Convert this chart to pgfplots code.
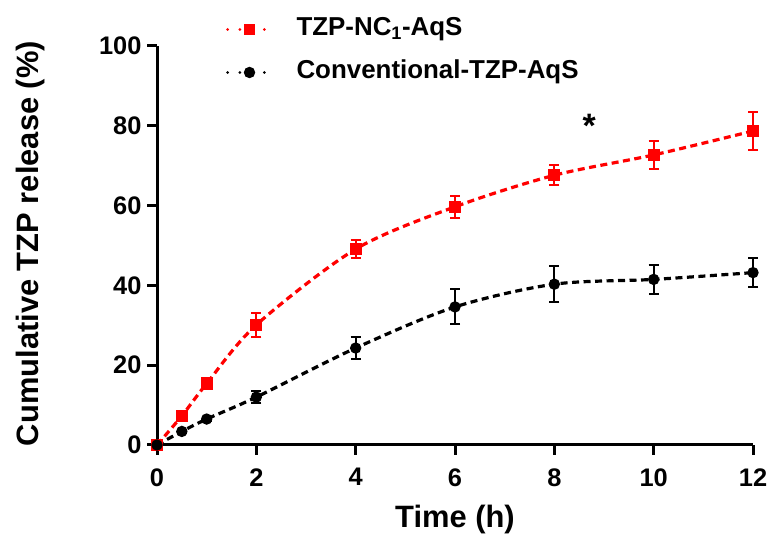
\documentclass[border=0pt]{standalone}
\usepackage{fontspec}
\setmainfont{Liberation Sans}
\usepackage{pgfplots}
\pgfplotsset{compat=1.18}
\begin{document}
\begin{tikzpicture}[x=1bp,y=1bp]
\useasboundingbox (0,0) rectangle (779,548);
\begin{axis}[
  at={(157bp,103bp)}, anchor=south west,
  scale only axis, width=596bp, height=399bp,
  xmin=0, xmax=12, ymin=0, ymax=100,
  axis x line=bottom, axis y line=left,
  axis line style={line width=3bp, -},
  xtick={0,2,...,12}, ytick={0,20,...,100},
  tick align=outside, major tick length=10bp,
  tick style={line width=3bp, black},
  tick label style={font=\fontsize{25.5}{25.5}\selectfont\bfseries},
  xticklabel style={yshift=-10bp},
  yticklabel style={xshift=-2bp},
  /pgf/number format/assume math mode=true,
  xlabel={Time (h)}, ylabel={Cumulative TZP release (\%)},
  label style={font=\fontsize{31}{31}\selectfont\bfseries},
  x label style={at={(axis description cs:0.5,-0.188)}, anchor=center},
  y label style={at={(axis description cs:-0.212,0.505)}, anchor=center, rotate=0},
  clip=false,
  legend style={at={(0.1158,1.0727)}, anchor=north west, draw=none, fill=none,
    inner sep=0bp, outer sep=0bp,
    font=\fontsize{26}{26}\selectfont\bfseries, row sep=18bp,
    nodes={inner sep=0bp, text height=19bp, text depth=6bp}},
  legend cell align=left,
  legend image code/.code={
    \path[draw=none, fill=none] (0bp,0bp) -- (69bp,0bp);
    \draw[#1, solid, line cap=round, dash pattern=on 0bp off 12.3bp, line width=3bp] (0bp,0bp) -- (37bp,0bp);
    \draw[#1, solid, mark size=4bp] plot coordinates {(22bp,0bp)};
  },
]
\addplot[red, line width=3.2bp, dash pattern=on 7bp off 4.5bp, smooth,
  mark=square*, mark size=4.5bp, mark options={solid},
  error bars/.cd, y dir=both, y explicit,
  error bar style={line width=2bp, solid},
  error mark options={rotate=90, mark size=5bp, line width=2bp, red}]
coordinates {
 (0,0) +- (0,0)
 (0.5,7.3) +- (0,0.4)
 (1,15.4) +- (0,1.0)
 (2,30.1) +- (0,3.1)
 (4,49.1) +- (0,2.2)
 (6,59.7) +- (0,2.7)
 (8,67.6) +- (0,2.5)
 (10,72.7) +- (0,3.5)
 (12,78.7) +- (0,4.7)
};
\addlegendentry{TZP-NC\textsubscript{1}-AqS}
\addplot[black, line width=3.2bp, dash pattern=on 7bp off 4.5bp, smooth,
  mark=*, mark size=4bp, mark options={solid},
  error bars/.cd, y dir=both, y explicit,
  error bar style={line width=2bp, solid},
  error mark options={rotate=90, mark size=5bp, line width=2bp, black}]
coordinates {
 (0,0) +- (0,0)
 (0.5,3.4) +- (0,0.3)
 (1,6.5) +- (0,0.5)
 (2,12.0) +- (0,1.5)
 (4,24.3) +- (0,2.7)
 (6,34.6) +- (0,4.4)
 (8,40.3) +- (0,4.5)
 (10,41.5) +- (0,3.7)
 (12,43.2) +- (0,3.6)
};
\addlegendentry{Conventional-TZP-AqS}
\node[font=\fontsize{34}{34}\selectfont\bfseries] at (axis cs:8.7,80) {*};
\end{axis}
\end{tikzpicture}
\end{document}
